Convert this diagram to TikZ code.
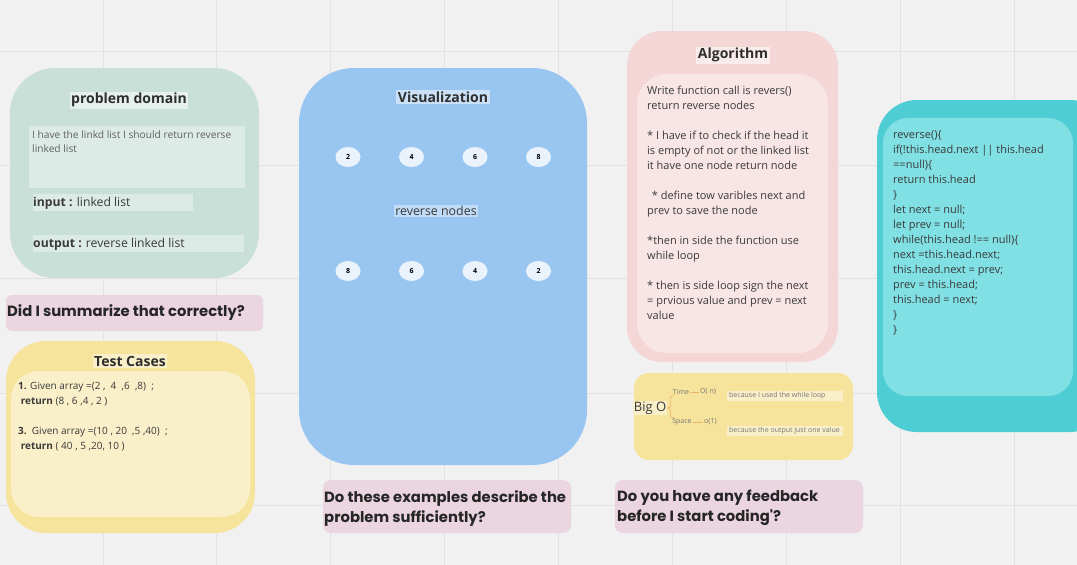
\documentclass[tikz,border=0pt]{standalone}
\usepackage{fontspec}
\setmainfont{Open Sans}
\newfontfamily\askfont{Poppins}
\usetikzlibrary{positioning,shapes.geometric}

\definecolor{canvas}{HTML}{F1F1F1}
\definecolor{gridline}{HTML}{E2E2E2}
\definecolor{ink}{HTML}{3A3A3A}
\definecolor{sage}{HTML}{C8E0D8}
\definecolor{sagelight}{HTML}{DDEBE6}
\definecolor{sagetitle}{HTML}{E6F1EE}
\definecolor{askpink}{HTML}{EBD5E0}
\definecolor{sand}{HTML}{F7E49C}
\definecolor{sandlight}{HTML}{F9EFC8}
\definecolor{sky}{HTML}{98C6F0}
\definecolor{skylight}{HTML}{EAF3FC}
\definecolor{skytitle}{HTML}{CBE1F7}
\definecolor{rose}{HTML}{F5D6D6}
\definecolor{roselight}{HTML}{F8E6E6}
\definecolor{rosetitle}{HTML}{FBECEC}
\definecolor{teal}{HTML}{4ECDD4}
\definecolor{teallight}{HTML}{80E0E4}
\definecolor{branch}{HTML}{F0B468}

\tikzset{
  title/.style={font=\bfseries\fontsize{14}{16}\selectfont, text=ink!80!black, inner sep=1.5pt},
  body/.style={font=\fontsize{11}{15}\selectfont, text=ink, align=left, inner sep=0pt},
  ask/.style={font=\askfont\bfseries\fontsize{14.8}{20}\selectfont, text=black!85, align=left, inner sep=0pt},
  listnode/.style={ellipse, fill=skylight, minimum width=25pt, minimum height=20pt, inner sep=0pt,
    font=\bfseries\fontsize{7}{8}\selectfont},
  tiny/.style={font=\fontsize{7}{8}\selectfont, text=ink!70, inner sep=1pt},
}

\begin{document}
\begin{tikzpicture}[x=1pt, y=-1pt]
  \fill[canvas] (0,0) rectangle (1077,565);
  \useasboundingbox (0,0) rectangle (1077,565);
  \clip (0,0) rectangle (1077,565);
  % grid
  \foreach \gx in {103,216,330,444,558,672,786,900,1014}
    \draw[gridline, line width=0.8pt] (\gx,0) -- (\gx,565);
  \foreach \gy in {51,165,278,393,505}
    \draw[gridline, line width=0.8pt] (0,\gy) -- (1077,\gy);

  % problem domain
  \fill[sage, rounded corners=45pt] (10,68) rectangle (259,278);
  \node[title, fill=sagetitle] (pdtitle) at (129,100) {problem domain};
  \fill[sagelight] (29,126) rectangle (245,188);
  \node[body, font=\fontsize{10.2}{13.5}\selectfont, text=ink!80, anchor=north west] (pdtext) at (32,131)
    {I have the linkd list I should return reverse\\linked list};
  \fill[sagelight] (33,194) rectangle (193,211);
  \node[body, font=\fontsize{12.2}{14}\selectfont, anchor=west] (pdin) at (33,203) {\textbf{input :} linked list};
  \fill[sagelight] (33,235) rectangle (244,252);
  \node[body, font=\fontsize{12.2}{14}\selectfont, anchor=west] (pdout) at (33,244) {\textbf{output :} reverse linked list};

  \fill[askpink, rounded corners=6pt] (6,295) rectangle (263,331);
  \node[ask, anchor=west] (askone) at (7,313) {Did I summarize that correctly?};

  % test cases
  \fill[sand, rounded corners=40pt] (6,341) rectangle (255,533);
  \fill[sandlight, rounded corners=28pt] (11,371) rectangle (250,517);
  \node[title, fill=sandlight] (tctitle) at (130,361) {Test Cases};
  \node[body, font=\fontsize{10}{15}\selectfont, anchor=north west] (tctext) at (18,382)
    {\textbf{1.} Given array =(2 ,\ \ 4\ \ ,6\ \ ,8)\ \ ;\\
     \ \textbf{return} (8 , 6 ,4 , 2 )\\[15pt]
     \textbf{3.}\ \ Given array =(10 , 20\ \ ,5 ,40)\ \ ;\\
     \ \textbf{return} ( 40 , 5 ,20, 10 )};

  % visualization
  \fill[sky, rounded corners=55pt] (299,68) rectangle (587,465);
  \node[title, fill=skytitle] (vtitle) at (443,97) {Visualization};
  \foreach \v [count=\i] in {2,4,6,8}
    \node[listnode] (top\i) at (348+63.5*\i-63.5,157) {\v};
  \node[body, fill=skytitle!80!sky, inner sep=1pt, font=\fontsize{12.4}{14}\selectfont] (revlabel) at (436,211) {reverse nodes};
  \foreach \v [count=\i] in {8,6,4,2}
    \node[listnode] (bot\i) at (348+63.5*\i-63.5,271) {\v};

  \fill[askpink, rounded corners=8pt] (323,480) rectangle (571,533);
  \node[ask, anchor=north west] (asktwo) at (324,490) {Do these examples describe the\\problem sufficiently?};

  % algorithm
  \fill[rose, rounded corners=35pt] (627,31) rectangle (838,362);
  \fill[roselight, rounded corners=30pt] (637,74) rectangle (828,353);
  \node[title, fill=rosetitle] (atitle) at (733,55) {Algorithm};
  \node[body, anchor=north west] (atext) at (647,86)
    {Write function call is revers()\\
     return reverse nodes\\[15pt]
     * I have if to check if the head it\\
     is empty of not or the linked list\\
     it have one node return node\\[15pt]
     \ \,* define tow varibles next and\\
     prev to save the node\\[15pt]
     *then in side the function use\\
     while loop\\[15pt]
     * then is side loop sign the next\\
     = prvious value and prev = next\\
     value};

  % big O
  \fill[sand, rounded corners=15pt] (634,373) rectangle (853,460);
  \node[body, fill=sandlight, inner sep=1pt, font=\fontsize{13}{15}\selectfont] (bigo) at (650,408) {Big O};
  \node[tiny] (time) at (681,392) {Time};
  \node[tiny, anchor=west] (timeval) at (699,392) {O( n)};
  \node[tiny] (space) at (682,422) {Space};
  \node[tiny, anchor=west] (spaceval) at (703,422) {o(1)};
  \draw[branch, line width=0.7pt, rounded corners=2pt] (bigo.east) -- ++(3,0) |- (time.south west);
  \draw[branch, line width=0.7pt, rounded corners=2pt] (bigo.east) -- ++(3,0) |- (space.north west);
  \draw[branch, line width=0.5pt] (time) -- (timeval);
  \draw[branch, line width=0.5pt] (space) -- (spaceval);
  \fill[sandlight] (727,391) rectangle (843,401);
  \node[tiny, anchor=west] (timenote) at (728,396) {because I used the while loop};
  \fill[sandlight] (727,426) rectangle (843,436);
  \node[tiny, anchor=west] (spacenote) at (728,431) {because the output just one value};

  \fill[askpink, rounded corners=8pt] (615,480) rectangle (863,533);
  \node[ask, anchor=north west] (askthree) at (617,490) {Do you have any feedback\\before I start coding'?};

  % code
  \fill[teal, rounded corners=40pt] (877,100) rectangle (1110,432);
  \fill[teallight, rounded corners=25pt] (883,118) rectangle (1073,396);
  \node[body, anchor=north west] (code) at (893,130)
    {reverse()\{\\
     if(!this.head.next || this.head\\
     ==null)\{\\
     return this.head\\
     \}\\
     let next = null;\\
     let prev = null;\\
     while(this.head !== null)\{\\
     next =this.head.next;\\
     this.head.next = prev;\\
     prev = this.head;\\
     this.head = next;\\
     \}\\
     \}};
\end{tikzpicture}
\end{document}
